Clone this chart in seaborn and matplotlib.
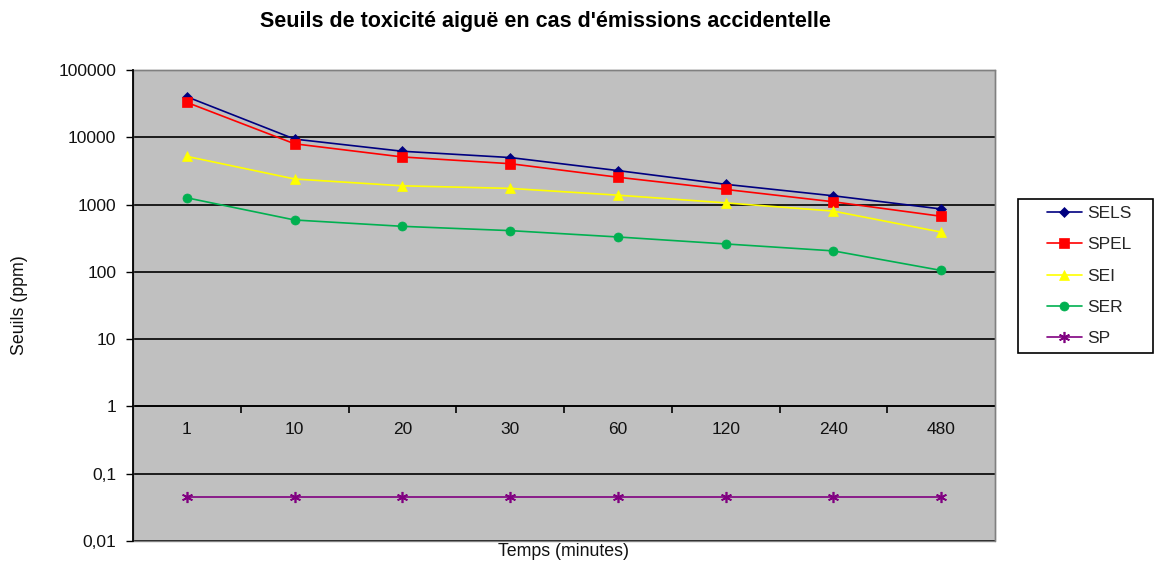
import numpy as np
import pandas as pd
import matplotlib
matplotlib.use("Agg")
import matplotlib.pyplot as plt
import matplotlib.patches as mpatches
import seaborn as sns
from matplotlib.ticker import FixedLocator, FixedFormatter, NullFormatter

# ---- data ----
temps = ["1", "10", "20", "30", "60", "120", "240", "480"]
sels = [40000, 9400, 6200, 5000, 3200, 2000, 1350, 860]
spel = [33000, 8000, 5100, 4050, 2550, 1680, 1100, 670]
sei = [5200, 2400, 1900, 1740, 1380, 1060, 800, 390]
ser = [1260, 590, 475, 410, 330, 260, 205, 105]
sp = [0.045, 0.045, 0.045, 0.045, 0.045, 0.045, 0.045, 0.045]
series_names = ["SELS", "SPEL", "SEI", "SER", "SP"]
ytick_values = [0.01, 0.1, 1, 10, 100, 1000, 10000, 100000]
ytick_labels = ["0,01", "0,1", "1", "10", "100", "1000", "10000", "100000"]

# ---- style ----
sns.set_style("white")
plt.rcParams['font.family'] = ['Liberation Sans', 'DejaVu Sans']

W, H = 1154, 565
fig = plt.figure(figsize=(W / 100, H / 100), dpi=100)
L, R, T, B = 133, 995, 70, 541
ax = fig.add_axes([L / W, 1 - B / H, (R - L) / W, (B - T) / H])
ax.set_facecolor('#C0C0C0')

x = np.arange(len(temps))
styles = [
    (sels, '#000080', 'D', 5.5),
    (spel, '#FF0000', 's', 6.5),
    (sei, '#FFFF00', '^', 7),
    (ser, '#00B050', 'o', 6.5),
    (sp, '#800080', (6, 2, 0), 8),
]
for name, (vals, color, marker, ms) in zip(series_names, styles):
    sns.lineplot(x=x, y=vals, ax=ax, color=color, marker=marker, markersize=ms,
                 markeredgecolor=color, markeredgewidth=1.2 if name == "SP" else 0.5,
                 linewidth=1.2, label=name, zorder=3)

ax.set_yscale('log')
ax.set_ylim(0.01, 100000)
ax.set_xlim(-0.5, len(temps) - 0.5)

# y axis
ax.yaxis.set_major_locator(FixedLocator(ytick_values))
ax.yaxis.set_major_formatter(FixedFormatter(ytick_labels))
ax.yaxis.set_minor_locator(FixedLocator([]))
ax.tick_params(axis='y', which='major', direction='out', length=5, width=1,
               color='black', left=True, labelsize=12.5, pad=7, labelcolor='#111111')
ax.yaxis.grid(True, which='major', color='black', linewidth=1.2, zorder=1)
ax.set_axisbelow(True)

# x axis crossing at y=1
ax.spines['bottom'].set_position(('data', 1))
ax.spines['bottom'].set_color('black')
ax.spines['bottom'].set_linewidth(1.2)
ax.xaxis.set_major_locator(FixedLocator(np.arange(0.5, len(temps) - 0.5, 1)))
ax.xaxis.set_major_formatter(NullFormatter())
ax.xaxis.set_minor_locator(FixedLocator(x))
ax.xaxis.set_minor_formatter(FixedFormatter(temps))
ax.tick_params(axis='x', which='major', direction='out', length=5, width=1.2,
               color='black', bottom=True)
ax.tick_params(axis='x', which='minor', length=0, labelsize=12.5, pad=11,
               labelcolor='#111111')

ax.spines['left'].set_color('black')
ax.spines['left'].set_linewidth(1.3)
ax.spines['left'].set_zorder(5)
for s in ['top', 'right']:
    ax.spines[s].set_color('#808080')
    ax.spines[s].set_linewidth(1.0)
ax.add_patch(mpatches.Rectangle((0, 0), 1, 1, transform=ax.transAxes, fill=False,
                                edgecolor='#808080', linewidth=1.0, zorder=4,
                                clip_on=False))
ax.set_xlabel("")
ax.set_ylabel("")

# titles / labels
fig.text(545 / W, 1 - 22 / H, "Seuils de toxicité aiguë en cas d'émissions accidentelle",
         ha='center', va='center', fontsize=15.5, fontweight='bold', color='black')
fig.text(564 / W, 1 - 552 / H, "Temps (minutes)", ha='center', va='center',
         fontsize=12.8, color='#111111')
fig.text(20 / W, 1 - 305 / H, "Seuils (ppm)", ha='center', va='center',
         rotation=90, fontsize=12.8, color='#111111')

# legend
leg = ax.legend(loc='center left', bbox_to_anchor=(1047 / W, 1 - 276 / H),
                bbox_transform=fig.transFigure, frameon=False, borderpad=0,
                borderaxespad=0, handlelength=2.0, handletextpad=0.3,
                labelspacing=0.92, fontsize=12.5)
fig.patches.append(mpatches.Rectangle((1018 / W, 1 - 353 / H), (1153 - 1018) / W,
                                      (353 - 199) / H, transform=fig.transFigure,
                                      fill=False, edgecolor='black', linewidth=1.2,
                                      figure=fig))

fig.savefig("out.png", dpi=100, facecolor='white')
